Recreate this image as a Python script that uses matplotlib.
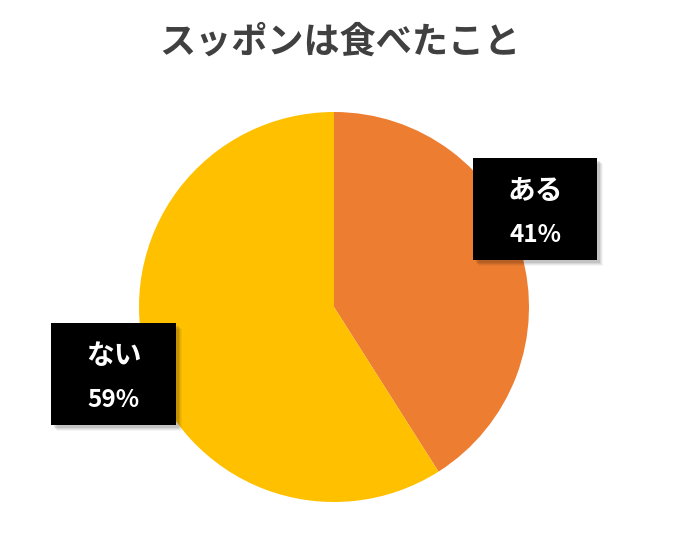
import matplotlib
matplotlib.use("Agg")
import matplotlib.pyplot as plt
from matplotlib.patches import Rectangle

plt.rcParams['font.family'] = ['Noto Sans CJK JP', 'DejaVu Sans']

TITLE = "スッポンは食べたこと"
labels = ["ある", "ない"]
shares = [41, 59]
colors = ["#ED7D31", "#FFC000"]

W, H = 682, 541
fig = plt.figure(figsize=(W / 100, H / 100), dpi=100)

# pie axes: centre (334, 307) px, radius 195 px
cx, cy, r = 334, 307, 195
ax = fig.add_axes([(cx - r) / W, (H - cy - r) / H, 2 * r / W, 2 * r / H])
ax.pie(shares, colors=colors, startangle=90, counterclock=False,
       radius=1, wedgeprops=dict(linewidth=0))
ax.set_xlim(-1, 1); ax.set_ylim(-1, 1)
ax.axis("off")

fig.text(340 / W, 1 - 42 / H, TITLE, ha="center", va="center",
         fontsize=26, fontweight="bold", color="#404040")

# label boxes (left, top, width, height in px)
boxes = [(473, 158, 124, 102), (51, 323, 125, 102)]
for (x0, y0, bw, bh), lab, val in zip(boxes, labels, shares):
    for k, a in [(6, 0.04), (5, 0.05), (4, 0.07), (3, 0.09)]:
        fig.add_artist(Rectangle(((x0 + k) / W, 1 - (y0 + bh + k) / H), bw / W, bh / H,
                                 transform=fig.transFigure, facecolor="#000000",
                                 alpha=a, linewidth=0))
    fig.add_artist(Rectangle((x0 / W, 1 - (y0 + bh) / H), bw / W, bh / H,
                             transform=fig.transFigure, facecolor="black", linewidth=0))
    xc = x0 + bw / 2
    fig.text(xc / W, 1 - (y0 + 33) / H, lab, ha="center", va="center",
             fontsize=20, fontweight="bold", color="white")
    fig.text(xc / W, 1 - (y0 + 77) / H, f"{val}%", ha="center", va="center",
             fontsize=17.5, fontweight="bold", color="white")

fig.savefig("out.png", dpi=100, facecolor="white")
